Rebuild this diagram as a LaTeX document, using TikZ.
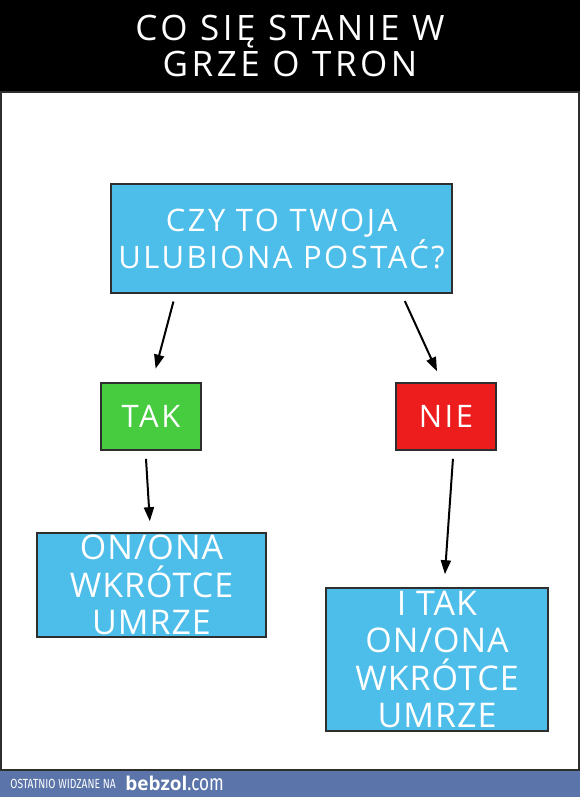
\documentclass[tikz,border=0pt]{standalone}
\usepackage{fontspec}
\setmainfont{Open Sans}
\newfontfamily\barfont[FakeStretch=0.78]{Fira Sans}
\usetikzlibrary{arrows.meta}
\definecolor{gotBlue}{HTML}{4DBDE9}
\definecolor{gotGreen}{HTML}{47CB3F}
\definecolor{gotRed}{HTML}{EE1D1D}
\definecolor{gotBar}{HTML}{5B74A9}
\definecolor{gotEdge}{HTML}{2E2E2E}
\tikzset{
    every picture/.style={>={Triangle[length=7pt,width=5pt]}},
    question/.style={draw=gotEdge, line width=0.8pt, fill=gotBlue, text=white, align=center,
        inner sep=0pt, font=\addfontfeatures{LetterSpace=8}\fontsize{15.5}{18.5}\selectfont},
    answer/.style={draw=gotEdge, line width=0.8pt, text=white, inner sep=0pt,
        minimum width=50pt, minimum height=33.5pt, font=\addfontfeatures{LetterSpace=8}\fontsize{15.5}{16}\selectfont},
    verdict/.style={question, font=\addfontfeatures{LetterSpace=3}\fontsize{17}{18.8}\selectfont},
    flow/.style={->, line width=1pt, black}
}
\begin{document}
\begin{tikzpicture}[x=0.5pt, y=-0.5pt]
    \useasboundingbox (0,0) rectangle (580,797);

    % Header and frame
    \fill[black] (0,0) rectangle (580,93);
    \draw[gotEdge, line width=0.6pt, fill=white] (1,92) rectangle (579,770);
    \fill[gotBar] (0,771) rectangle (580,797);
    \node[text=white, align=center, font=\addfontfeatures{LetterSpace=10}\fontsize{17.5}{18}\selectfont] (title) at (290,46)
        {CO SIĘ STANIE W\\GRZE O TRON};

    % Question
    \node[question, minimum width=170.5pt, minimum height=54.5pt] (q) at (281.5,238.5)
        {CZY TO TWOJA\\ULUBIONA POSTAĆ?};

    % Answers
    \node[answer, fill=gotGreen] (tak) at (151,416.5) {TAK};
    \node[answer, fill=gotRed] (nie) at (446,416.5) {NIE};

    % Outcomes
    \node[verdict, minimum width=114.5pt, minimum height=52pt] (res1) at (151.5,585)
        {ON/ONA\\WKRÓTCE\\UMRZE};
    \node[verdict, minimum width=111pt, minimum height=71.5pt] (res2) at (437,659.5)
        {I TAK\\ON/ONA\\WKRÓTCE\\UMRZE};

    % Footer
    \node[anchor=west, text=white, inner sep=0pt, font=\barfont\fontsize{6.6}{8}\selectfont] (seen) at (10,784)
        {OSTATNIO WIDZANE NA};
    \node[anchor=west, text=white, inner sep=0pt, font=\fontsize{9.5}{10}\selectfont] (site) at (125,783)
        {\textbf{bebzol}{\barfont\fontsize{11}{12}\selectfont.com}};

    % Connections
    \draw[flow, shorten <=4pt, shorten >=7pt] ([xshift=-53pt]q.south) -- ([xshift=0.5pt]tak.north);
    \draw[flow, shorten <=4pt, shorten >=6pt] ([xshift=60pt]q.south) -- ([xshift=-2pt]nie.north);
    \draw[flow, shorten <=4pt, shorten >=5.5pt] ([xshift=-2.75pt]tak.south) -- ([xshift=-0.5pt]res1.north);
    \draw[flow, shorten <=4pt, shorten >=6.5pt] ([xshift=3.75pt]nie.south) -- ([xshift=3.5pt]res2.north);
\end{tikzpicture}
\end{document}
